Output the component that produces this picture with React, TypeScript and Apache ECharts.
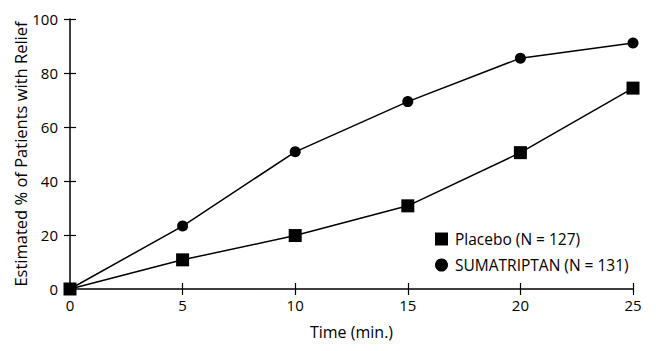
import React, { useEffect, useRef } from "react";
import * as echarts from "echarts";

const times = [0, 5, 10, 15, 20, 25];
const placebo = [0, 10.8, 19.8, 30.8, 50.5, 74.4];
const sumatriptan = [0, 23.3, 50.8, 69.4, 85.5, 91.1];
const xTicks = { min: 0, max: 25, interval: 5 };
const yTicks = { min: 0, max: 100, interval: 20 };
const placeboName = "Placebo (N = 127)";
const sumaName = "SUMATRIPTAN (N = 131)";

const FONT = "Open Sans";

export default function App() {
  const ref = useRef<HTMLDivElement>(null);
  useEffect(() => {
    if (!ref.current) return;
    const chart = echarts.init(ref.current, undefined, { renderer: "svg" });
    const axisLabelStyle = { color: "#000", fontFamily: FONT, fontSize: 15 };
    chart.setOption({
      animation: false,
      backgroundColor: "#fff",
      grid: { left: 70, right: 23, top: 19, bottom: 62, outerBoundsMode: "none", containLabel: false },
      legend: {
        orient: "vertical",
        left: 430,
        top: 226,
        itemWidth: 13,
        itemHeight: 13,
        itemGap: 10,
        data: [
          { name: placeboName, icon: "rect" },
          { name: sumaName, icon: "circle" },
        ],
        textStyle: { color: "#000", fontFamily: FONT, fontSize: 15.5, padding: [0, 0, 0, 2] },
      },
      xAxis: [
        {
          type: "value",
          ...xTicks,
          name: "Time (min.)",
          nameLocation: "middle",
          nameGap: 35,
          nameMoveOverlap: false,
          nameTextStyle: { color: "#000", fontFamily: FONT, fontSize: 16 },
          axisLine: { lineStyle: { color: "#000", width: 1.5 } },
          axisTick: { length: 6, lineStyle: { color: "#000", width: 1.2 } },
          axisLabel: { ...axisLabelStyle, margin: 8 },
          splitLine: { show: false },
        },
        {
          type: "value",
          ...xTicks,
          position: "bottom",
          axisLine: { show: false },
          axisTick: { inside: true, length: 6, lineStyle: { color: "#000", width: 1.2 } },
          axisLabel: { show: false },
          splitLine: { show: false },
        },
      ],
      yAxis: [
        {
          type: "value",
          ...yTicks,
          name: "Estimated % of Patients with Relief",
          nameLocation: "middle",
          nameGap: 41,
          nameMoveOverlap: false,
          nameTextStyle: { color: "#000", fontFamily: FONT, fontSize: 16.5 },
          axisLine: { show: true, lineStyle: { color: "#000", width: 1.5 } },
          axisTick: { show: true, length: 6, lineStyle: { color: "#000", width: 1.2 } },
          axisLabel: { ...axisLabelStyle, margin: 12 },
          splitLine: { show: false },
        },
        {
          type: "value",
          ...yTicks,
          position: "left",
          axisLine: { show: false },
          axisTick: { show: true, inside: true, length: 6, lineStyle: { color: "#000", width: 1.2 } },
          axisLabel: { show: false },
          splitLine: { show: false },
        },
      ],
      series: [
        {
          name: sumaName,
          type: "line",
          data: times.map((t, i) => [t, sumatriptan[i]]),
          symbol: "circle",
          symbolSize: 11,
          clip: false,
          itemStyle: { color: "#000" },
          lineStyle: { color: "#000", width: 1.5 },
          z: 3,
        },
        {
          name: placeboName,
          type: "line",
          data: times.map((t, i) => [t, placebo[i]]),
          symbol: "rect",
          symbolSize: 13,
          clip: false,
          itemStyle: { color: "#000" },
          lineStyle: { color: "#000", width: 1.5 },
          z: 4,
        },
      ],
    });
    return () => chart.dispose();
  }, []);
  return <div ref={ref} style={{ width: 656, height: 351, position: "absolute", left: 0, top: 0 }} />;
}
